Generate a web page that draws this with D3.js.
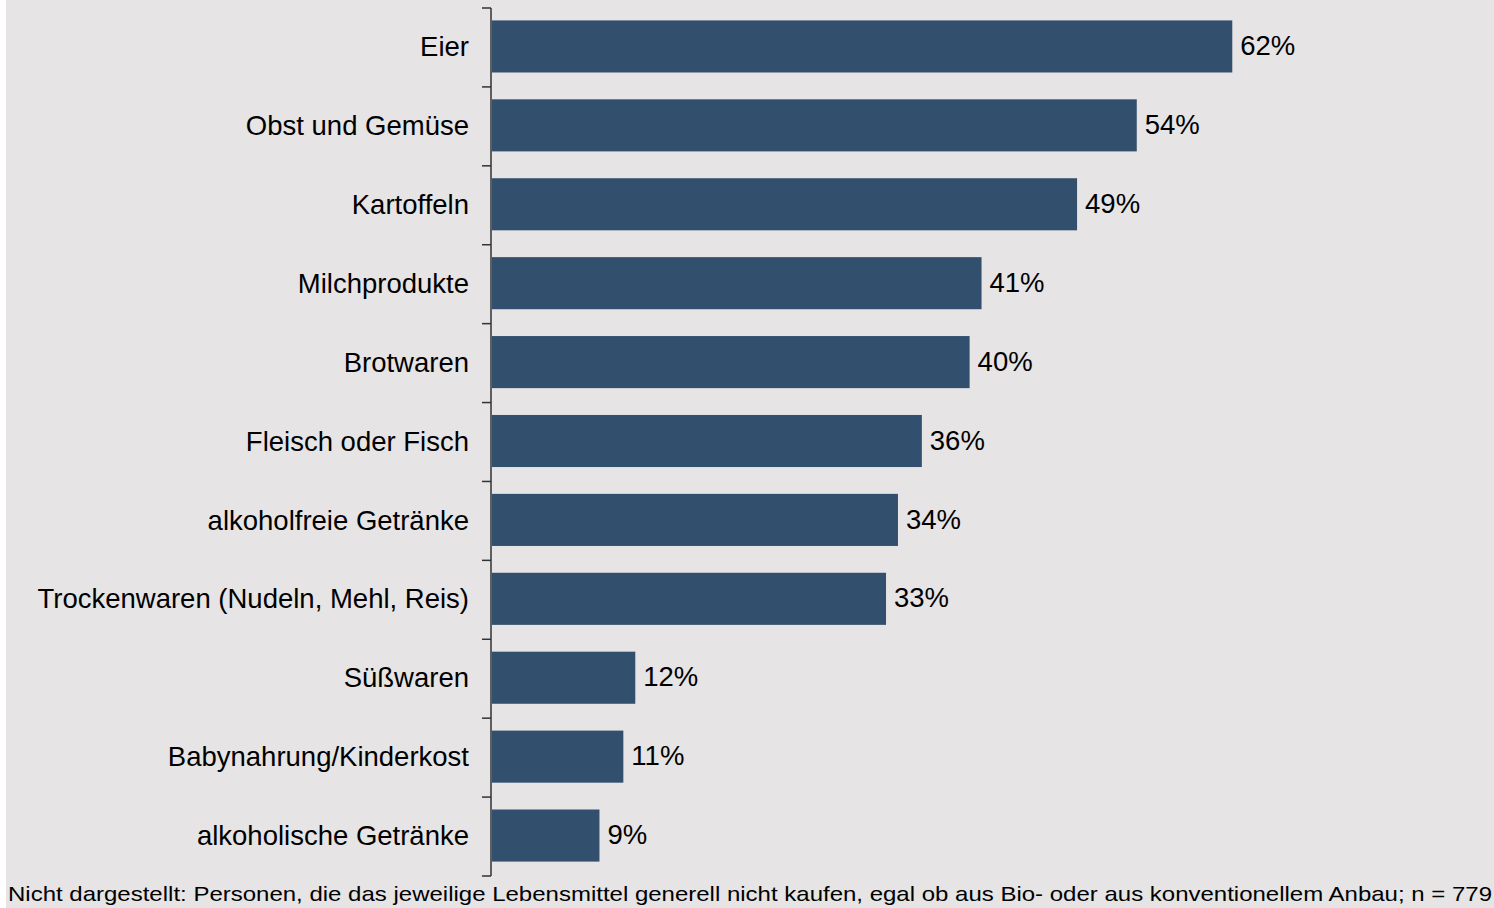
<!DOCTYPE html>
<html>
<head>
<meta charset="utf-8">
<script src="https://cdn.jsdelivr.net/npm/d3@7"></script>
<style>
  body { margin: 0; background: #fff; }
  svg { display: block; font-family: "Liberation Sans", Arial, sans-serif; }
</style>
</head>
<body>
<div id="chart"></div>
<script>
const categories = [
    "Eier",
    "Obst und Gemüse",
    "Kartoffeln",
    "Milchprodukte",
    "Brotwaren",
    "Fleisch oder Fisch",
    "alkoholfreie Getränke",
    "Trockenwaren (Nudeln, Mehl, Reis)",
    "Süßwaren",
    "Babynahrung/Kinderkost",
    "alkoholische Getränke"
]
const values = [62, 54, 49, 41, 40, 36, 34, 33, 12, 11, 9]
const footnote = "Nicht dargestellt: Personen, die das jeweilige Lebensmittel generell nicht kaufen, egal ob aus Bio- oder aus konventionellem Anbau; n = 779"

const width = 1494, height = 908
const margins = {top: 8, right: 20, bottom: 32, left: 491}
const colors = {
    bg: '#e6e4e5',
    bar: '#324f6d',
    axis: '#333',
    text: '#000'
}

const svg = d3.select('#chart')
    .append('svg')
    .attr('width', width)
    .attr('height', height)

svg.append('rect')
    .attr('x', 6).attr('y', 0)
    .attr('width', width - 6).attr('height', height)
    .attr('fill', colors.bg)

// 62% ends at x≈1233, so 1% ≈ 11.94px
const x = d3.scaleLinear()
    .domain([0, 84])
    .range([margins.left + 1, margins.left + 1 + 84 * 11.94])

const y = d3.scaleBand()
    .domain(categories)
    .range([margins.top, height - margins.bottom])
    .paddingInner(0.34)
    .paddingOuter(0.17)

const g = svg.append('g')

g.selectAll('rect.bar')
    .data(values)
    .join('rect')
    .attr('class', 'bar')
    .attr('x', x(0))
    .attr('y', (d, i) => y(categories[i]) - 1)
    .attr('width', d => x(d) - x(0))
    .attr('height', y.bandwidth())
    .attr('fill', colors.bar)

g.selectAll('text.val')
    .data(values)
    .join('text')
    .attr('class', 'val')
    .attr('x', d => x(d) + 8)
    .attr('y', (d, i) => y(categories[i]) + y.bandwidth() / 2 - 2)
    .attr('dy', '0.35em')
    .attr('font-size', 27.5)
    .attr('fill', colors.text)
    .text(d => d + '%')

// category axis with ticks on the band boundaries
const step = y.step()
const boundaries = d3.range(categories.length + 1).map(i => margins.top + i * step)
const axisG = svg.append('g')
axisG.append('line')
    .attr('x1', margins.left).attr('x2', margins.left)
    .attr('y1', margins.top).attr('y2', height - margins.bottom)
    .attr('stroke', colors.axis).attr('stroke-width', 1.5)
axisG.selectAll('line.tick')
    .data(boundaries)
    .join('line')
    .attr('class', 'tick')
    .attr('x1', margins.left - 9).attr('x2', margins.left)
    .attr('y1', d => d).attr('y2', d => d)
    .attr('stroke', colors.axis).attr('stroke-width', 1.5)

axisG.selectAll('text.cat')
    .data(categories)
    .join('text')
    .attr('class', 'cat')
    .attr('x', margins.left - 22)
    .attr('y', d => y(d) + y.bandwidth() / 2 - 1)
    .attr('dy', '0.35em')
    .attr('text-anchor', 'end')
    .attr('font-size', 27.5)
    .attr('fill', colors.text)
    .text(d => d)

svg.append('text')
    .attr('x', 8)
    .attr('y', 901)
    .attr('font-size', 21)
    .attr('textLength', 1484)
    .attr('lengthAdjust', 'spacingAndGlyphs')
    .attr('fill', colors.text)
    .text(footnote)
</script>
</body>
</html>
